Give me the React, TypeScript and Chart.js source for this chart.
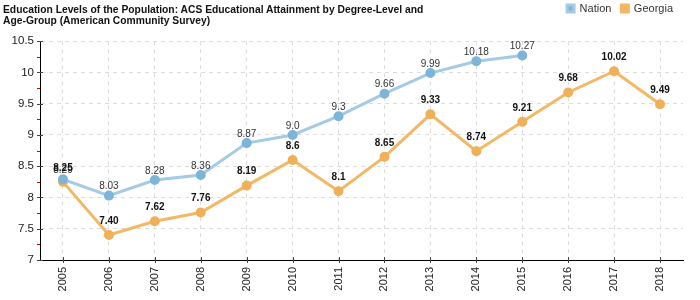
import React, { useEffect, useRef } from "react";
import { Chart, registerables } from "chart.js";

Chart.register(...registerables);

const years = ["2005","2006","2007","2008","2009","2010","2011","2012","2013","2014","2015","2016","2017","2018"];
const nation = [8.29, 8.03, 8.28, 8.36, 8.87, 9.0, 9.3, 9.66, 9.99, 10.18, 10.27, null, null, null];
const georgia = [8.25, 7.40, 7.62, 7.76, 8.19, 8.6, 8.1, 8.65, 9.33, 8.74, 9.21, 9.68, 10.02, 9.49];
const nationLabels = ["8.29","8.03","8.28","8.36","8.87","9.0","9.3","9.66","9.99","10.18","10.27","","",""];
const georgiaLabels = ["8.25","7.40","7.62","7.76","8.19","8.6","8.1","8.65","9.33","8.74","9.21","9.68","10.02","9.49"];

const FONT = "'Liberation Sans', Arial, sans-serif";

const tickPlugin = {
  id: "tickMarks",
  afterDraw(chart: any) {
    const ctx = chart.ctx;
    const y = chart.scales.y;
    const x = chart.scales.x;
    const ax = chart.chartArea.left;
    const ay = chart.chartArea.bottom;
    ctx.save();
    ctx.lineWidth = 1;
    for (let v = 7; v <= 10.5001; v += 0.25) {
      const py = Math.round(y.getPixelForValue(v)) + 0.5;
      const major = Math.abs(v * 2 - Math.round(v * 2)) < 1e-6;
      ctx.strokeStyle = major ? "#444" : "#e00000";
      ctx.beginPath();
      ctx.moveTo(ax - 3, py);
      ctx.lineTo(ax + (major ? 3 : 0), py);
      ctx.stroke();
    }
    ctx.strokeStyle = "#444";
    for (let i = 0; i < years.length; i++) {
      const px = Math.round(x.getPixelForValue(i)) + 0.5;
      ctx.beginPath();
      ctx.moveTo(px, ay - 3);
      ctx.lineTo(px, ay + 3);
      ctx.stroke();
    }
    ctx.restore();
  },
};

const labelPlugin = {
  id: "pointLabels",
  afterDatasetsDraw(chart: any) {
    const ctx = chart.ctx;
    ctx.save();
    ctx.textAlign = "center";
    ctx.textBaseline = "middle";
    const sets = [
      { idx: 0, labels: nationLabels, font: `normal 10px ${FONT}`, color: "#333", off: 9 },
      { idx: 1, labels: georgiaLabels, font: `bold 10px ${FONT}`, color: "#111", off: 14 },
    ];
    sets.forEach((s) => {
      const meta = chart.getDatasetMeta(s.idx);
      ctx.font = s.font;
      ctx.fillStyle = s.color;
      meta.data.forEach((pt: any, i: number) => {
        const txt = s.labels[i];
        if (!txt || pt.skip) return;
        ctx.fillText(txt, pt.x, pt.y - s.off);
      });
    });
    ctx.restore();
  },
};

export default function App() {
  const ref = useRef<HTMLCanvasElement>(null);
  useEffect(() => {
    document.body.style.margin = "0";
    const chart = new Chart(ref.current!, {
      type: "line",
      data: {
        labels: years,
        datasets: [
          {
            label: "Nation",
            data: nation,
            borderColor: "#a3cbe4",
            backgroundColor: "#7db5d8",
            pointBackgroundColor: "#7db5d8",
            pointBorderColor: "#7db5d8",
            borderWidth: 3,
            pointRadius: 3.5,
            tension: 0,
            spanGaps: false,
          },
          {
            label: "Georgia",
            data: georgia,
            borderColor: "#f2b866",
            backgroundColor: "#f2b662",
            pointBackgroundColor: "#f0b05a",
            pointBorderColor: "#f0b05a",
            borderWidth: 3,
            pointRadius: 3.5,
            tension: 0,
          },
        ],
      },
      options: {
        responsive: false,
        animation: false,
        layout: { padding: { left: 0, right: 17, top: -7, bottom: 0 } },
        plugins: {
          title: {
            display: true,
            text: " ",
            weight: 500,
            font: { size: 1 },
            padding: { top: 0, bottom: 16 },
          },
          tooltip: { enabled: false },
          legend: {
            display: true,
            position: "top",
            align: "end",
            weight: 3000,
            labels: {
              boxWidth: 7,
              boxHeight: 7,
              padding: 10,
              color: "#333",
              font: { family: FONT, size: 11 },
            },
          },
        },
        scales: {
          x: {
            offset: true,
            grid: {
              offset: false,
              color: "#dddddd",
              drawTicks: false,
            },
            border: { display: true, color: "#000", width: 1, dash: [4, 4] },
            ticks: {
              color: "#222",
              font: { family: FONT, size: 11 },
              maxRotation: 90,
              minRotation: 90,
              padding: 7,
              autoSkip: false,
            },
            afterFit(s: any) { s.height = 40; },
          },
          y: {
            min: 7,
            max: 10.5,
            grid: { color: "#dddddd", drawTicks: false },
            border: { display: true, color: "#000", width: 1, dash: [4, 4] },
            ticks: {
              stepSize: 0.5,
              color: "#222",
              font: { family: FONT, size: 11.5 },
              padding: 6,
              callback: (v: any) => String(v),
            },
            afterFit(s: any) { s.width = 40; },
          },
        },
      },
      plugins: [tickPlugin, labelPlugin],
    } as any);
    return () => chart.destroy();
  }, []);
  return (
    <div style={{ position: "absolute", left: 0, top: 0, width: 700, height: 300 }}>
      <canvas ref={ref} width={700} height={300} />
      <div
        style={{
          position: "absolute",
          left: 3,
          top: 4,
          fontFamily: FONT,
          fontWeight: "bold",
          fontSize: 10.3,
          lineHeight: "11px",
          color: "#111",
          whiteSpace: "nowrap",
        }}
      >
        Education Levels of the Population: ACS Educational Attainment by Degree-Level and
        <br />
        Age-Group (American Community Survey)
      </div>
    </div>
  );
}
